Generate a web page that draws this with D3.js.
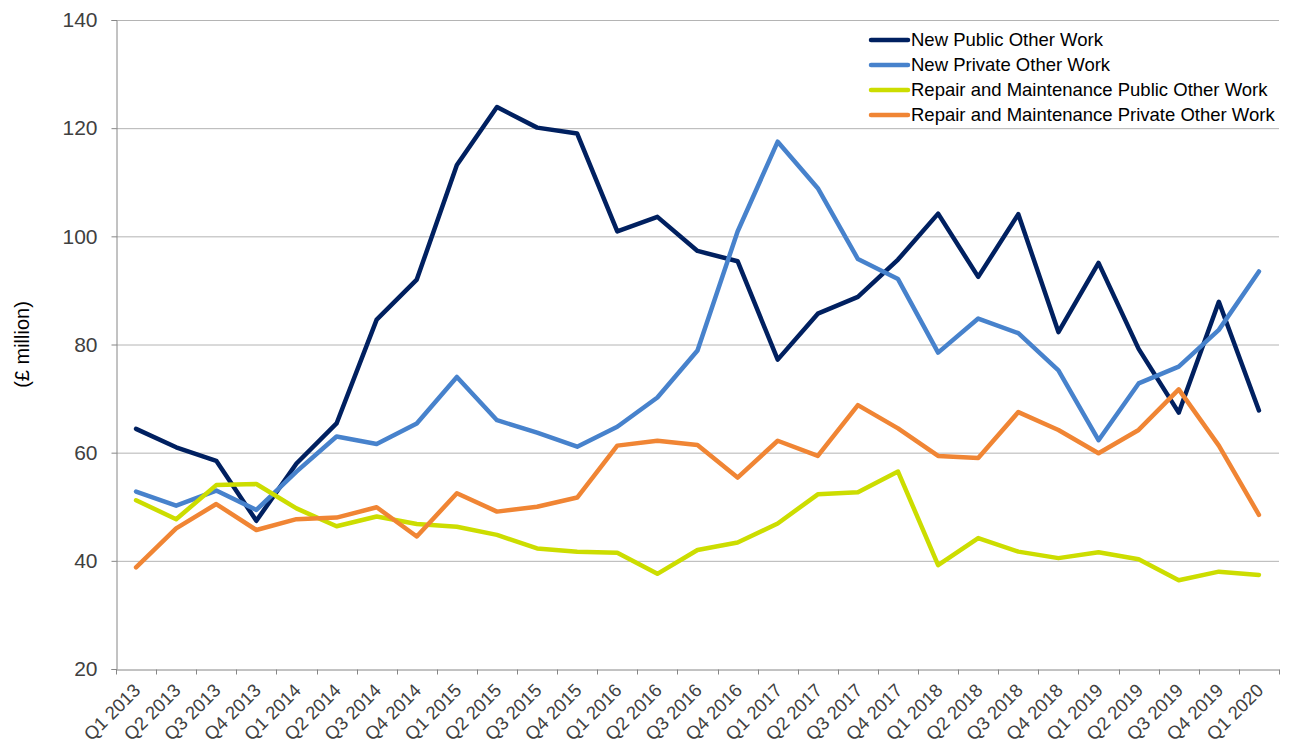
<!DOCTYPE html>
<html><head><meta charset="utf-8">
<script src="https://cdn.jsdelivr.net/npm/d3@7"></script>
<style>
html,body{margin:0;padding:0;background:#fff;}
svg{display:block;font-family:"Liberation Sans",Arial,sans-serif;}
</style></head>
<body><svg id="chart" width="1289" height="749"></svg>
<script>
const categories = ["Q1 2013","Q2 2013","Q3 2013","Q4 2013","Q1 2014","Q2 2014","Q3 2014","Q4 2014","Q1 2015","Q2 2015","Q3 2015","Q4 2015","Q1 2016","Q2 2016","Q3 2016","Q4 2016","Q1 2017","Q2 2017","Q3 2017","Q4 2017","Q1 2018","Q2 2018","Q3 2018","Q4 2018","Q1 2019","Q2 2019","Q3 2019","Q4 2019","Q1 2020"];
const seriesNames = ["New Public Other Work","New Private Other Work","Repair and Maintenance Public Other Work","Repair and Maintenance Private Other Work"];
const newPublic = [64.4,61.0,58.5,47.4,58.0,65.4,84.6,92.0,113.2,123.9,120.1,119.0,100.9,103.6,97.3,95.4,77.2,85.7,88.8,95.7,104.2,92.5,104.1,82.3,95.1,79.2,67.4,87.9,67.8];
const newPrivate = [52.8,50.2,53.0,49.4,56.5,63.0,61.6,65.4,74.0,66.0,63.7,61.1,64.8,70.2,78.9,100.9,117.5,108.9,95.8,92.1,78.5,84.8,82.1,75.2,62.3,72.8,75.9,82.7,93.5];
const rmPublic = [51.2,47.7,54.0,54.2,49.7,46.4,48.2,46.8,46.3,44.8,42.3,41.7,41.5,37.6,42.0,43.4,46.9,52.3,52.7,56.5,39.2,44.2,41.7,40.5,41.6,40.3,36.4,38.0,37.4];
const rmPrivate = [38.8,46.0,50.5,45.7,47.7,48.0,49.9,44.5,52.5,49.1,50.0,51.7,61.3,62.2,61.4,55.4,62.2,59.4,68.8,64.5,59.4,59.0,67.5,64.2,59.9,64.2,71.7,61.3,48.5];
const yTicks = [20,40,60,80,100,120,140];
const colors = ["#002060","#4782CC","#CCDD00","#F08534"];

const W = 1289, H = 749;
const margin = {top:20, right:10, bottom:80, left:116};
const svg = d3.select("#chart");
const x = d3.scaleBand().domain(categories).range([margin.left, W - margin.right]).padding(0);
const y = d3.scaleLinear().domain([20,140]).range([H - margin.bottom, margin.top]);

// gridlines
svg.append("g").selectAll("line").data(yTicks.filter(d=>d>20)).join("line")
  .attr("x1", margin.left).attr("x2", W - margin.right)
  .attr("y1", d=>y(d)+0.5).attr("y2", d=>y(d)+0.5)
  .attr("stroke","#b4b4b4").attr("stroke-width",1);

// y axis
const yAxis = svg.append("g").attr("transform",`translate(${margin.left+0.5},0)`)
  .call(d3.axisLeft(y).tickValues(yTicks).tickSize(5).tickPadding(14).tickFormat(d3.format("d")));
yAxis.select(".domain").attr("stroke","#868686");
yAxis.selectAll(".tick line").attr("stroke","#868686");
yAxis.selectAll(".tick text").attr("fill","#404040").style("font-size","21px").style("font-family","Liberation Sans, Arial, sans-serif");

// x axis
const xAxis = svg.append("g").attr("transform",`translate(0,${H - margin.bottom + 0.5})`)
  .call(d3.axisBottom(x).tickSize(0).tickFormat(""));
xAxis.select(".domain").attr("stroke","#868686");
xAxis.selectAll(".tick").remove();
const bounds = categories.map(c=>x(c)).concat([x(categories[categories.length-1]) + x.bandwidth()]);
xAxis.selectAll("line.bt").data(bounds).join("line").attr("class","bt")
  .attr("x1",d=>Math.round(d)+0.5).attr("x2",d=>Math.round(d)+0.5)
  .attr("y1",0).attr("y2",5).attr("stroke","#868686");
svg.append("g").selectAll("text").data(categories).join("text")
  .attr("transform", d=>`translate(${x(d)+x.bandwidth()/2+1},${H - margin.bottom + 18}) rotate(-45)`)
  .attr("text-anchor","end")
  .attr("dy","0.35em")
  .attr("fill","#404040")
  .style("font-size","18.5px")
  .text(d=>d);

// y title
svg.append("text")
  .attr("transform",`translate(29,${(margin.top + H - margin.bottom)/2}) rotate(-90)`)
  .attr("text-anchor","middle")
  .attr("fill","#000")
  .style("font-size","20px")
  .text("(£ million)");

// lines
const seriesData = [newPublic,newPrivate,rmPublic,rmPrivate];
const line = d3.line().x((d,i)=>x(categories[i]) + x.bandwidth()/2).y(d=>y(d));
svg.append("g").selectAll("path").data(seriesData).join("path")
  .attr("d", line)
  .attr("fill","none")
  .attr("stroke",(d,i)=>colors[i])
  .attr("stroke-width",4.5)
  .attr("stroke-linejoin","round")
  .attr("stroke-linecap","round");

// legend
const lg = svg.append("g").attr("transform","translate(871,40)");
const items = lg.selectAll("g").data(seriesNames).join("g")
  .attr("transform",(d,i)=>`translate(0,${i*25})`);
items.append("line").attr("x1",0).attr("x2",37).attr("y1",0).attr("y2",0)
  .attr("stroke",(d,i)=>colors[i]).attr("stroke-width",4.5).attr("stroke-linecap","round");
items.append("text").attr("x",40).attr("dy","0.35em").attr("fill","#000")
  .style("font-size","18.5px").text(d=>d);
</script></body></html>
